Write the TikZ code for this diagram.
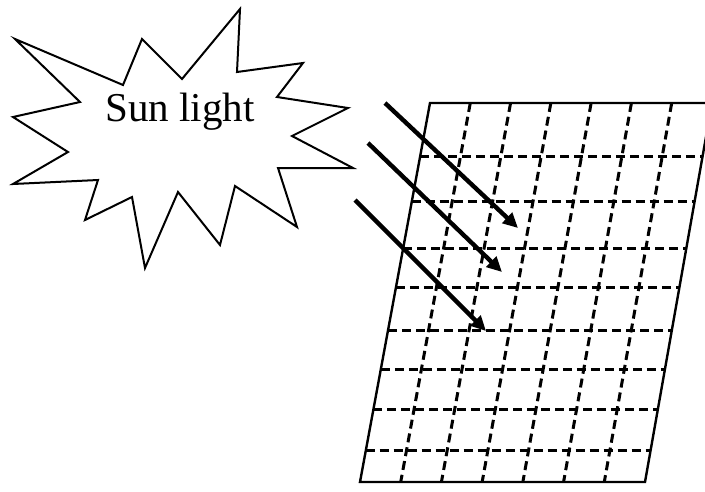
\documentclass[tikz,border=0pt]{standalone}
\usepackage{fontspec}
\setmainfont{Liberation Serif}
\usetikzlibrary{arrows.meta, calc}

\begin{document}
\begin{tikzpicture}[
x=1pt, y=-1pt,
burst/.style={draw, line width=2pt, line join=miter},
ray/.style={-{Triangle[length=15pt,width=14pt]}, line width=4.4pt},
gridline/.style={line width=3pt, dash pattern=on 9pt off 5pt},
rim/.style={line width=2.4pt}
]
\useasboundingbox (0,0) rectangle (705,491);
\clip (0,0) rectangle (705,491);

\draw[burst] (15,39) -- (123,85) -- (142,39) -- (182,79) -- (240,9) -- (237,72)
  -- (303,63) -- (277,97) -- (348,108) -- (292,136) -- (353,168) -- (278,168)
  -- (297,227) -- (235,186) -- (220,245) -- (178,192) -- (145,268) -- (132,197)
  -- (85,220) -- (98,180) -- (13,184) -- (68,152) -- (13,117) -- (80,102) -- cycle;
\node (sun) at (180,112) {\fontsize{41}{41}\selectfont Sun light};

\coordinate (tl) at (430,103);
\coordinate (tr) at (712,103);
\coordinate (bl) at (360,482);
\coordinate (br) at (645,482);

\foreach \f in {0.14,0.261,0.383,0.488,0.599,0.702,0.81,0.918}
  \draw[gridline] ($(tl)!\f!(bl)$) -- ($(tr)!\f!(br)$);
\foreach \i in {1,...,6}
  \draw[gridline] ($(tl)!{\i/7}!(tr)$) -- ($(bl)!{\i/7}!(br)$);
\draw[rim] (tl) -- (tr) -- (br) -- (bl) -- cycle;

\coordinate (s1) at (385,103);
\coordinate (e1) at (518,228);
\coordinate (s2) at (368,143);
\coordinate (e2) at (502,272);
\coordinate (s3) at (355,200);
\coordinate (e3) at (486,331);

\draw[ray] (s1) -- (e1);
\draw[ray] (s2) -- (e2);
\draw[ray] (s3) -- (e3);

\end{tikzpicture}
\end{document}
